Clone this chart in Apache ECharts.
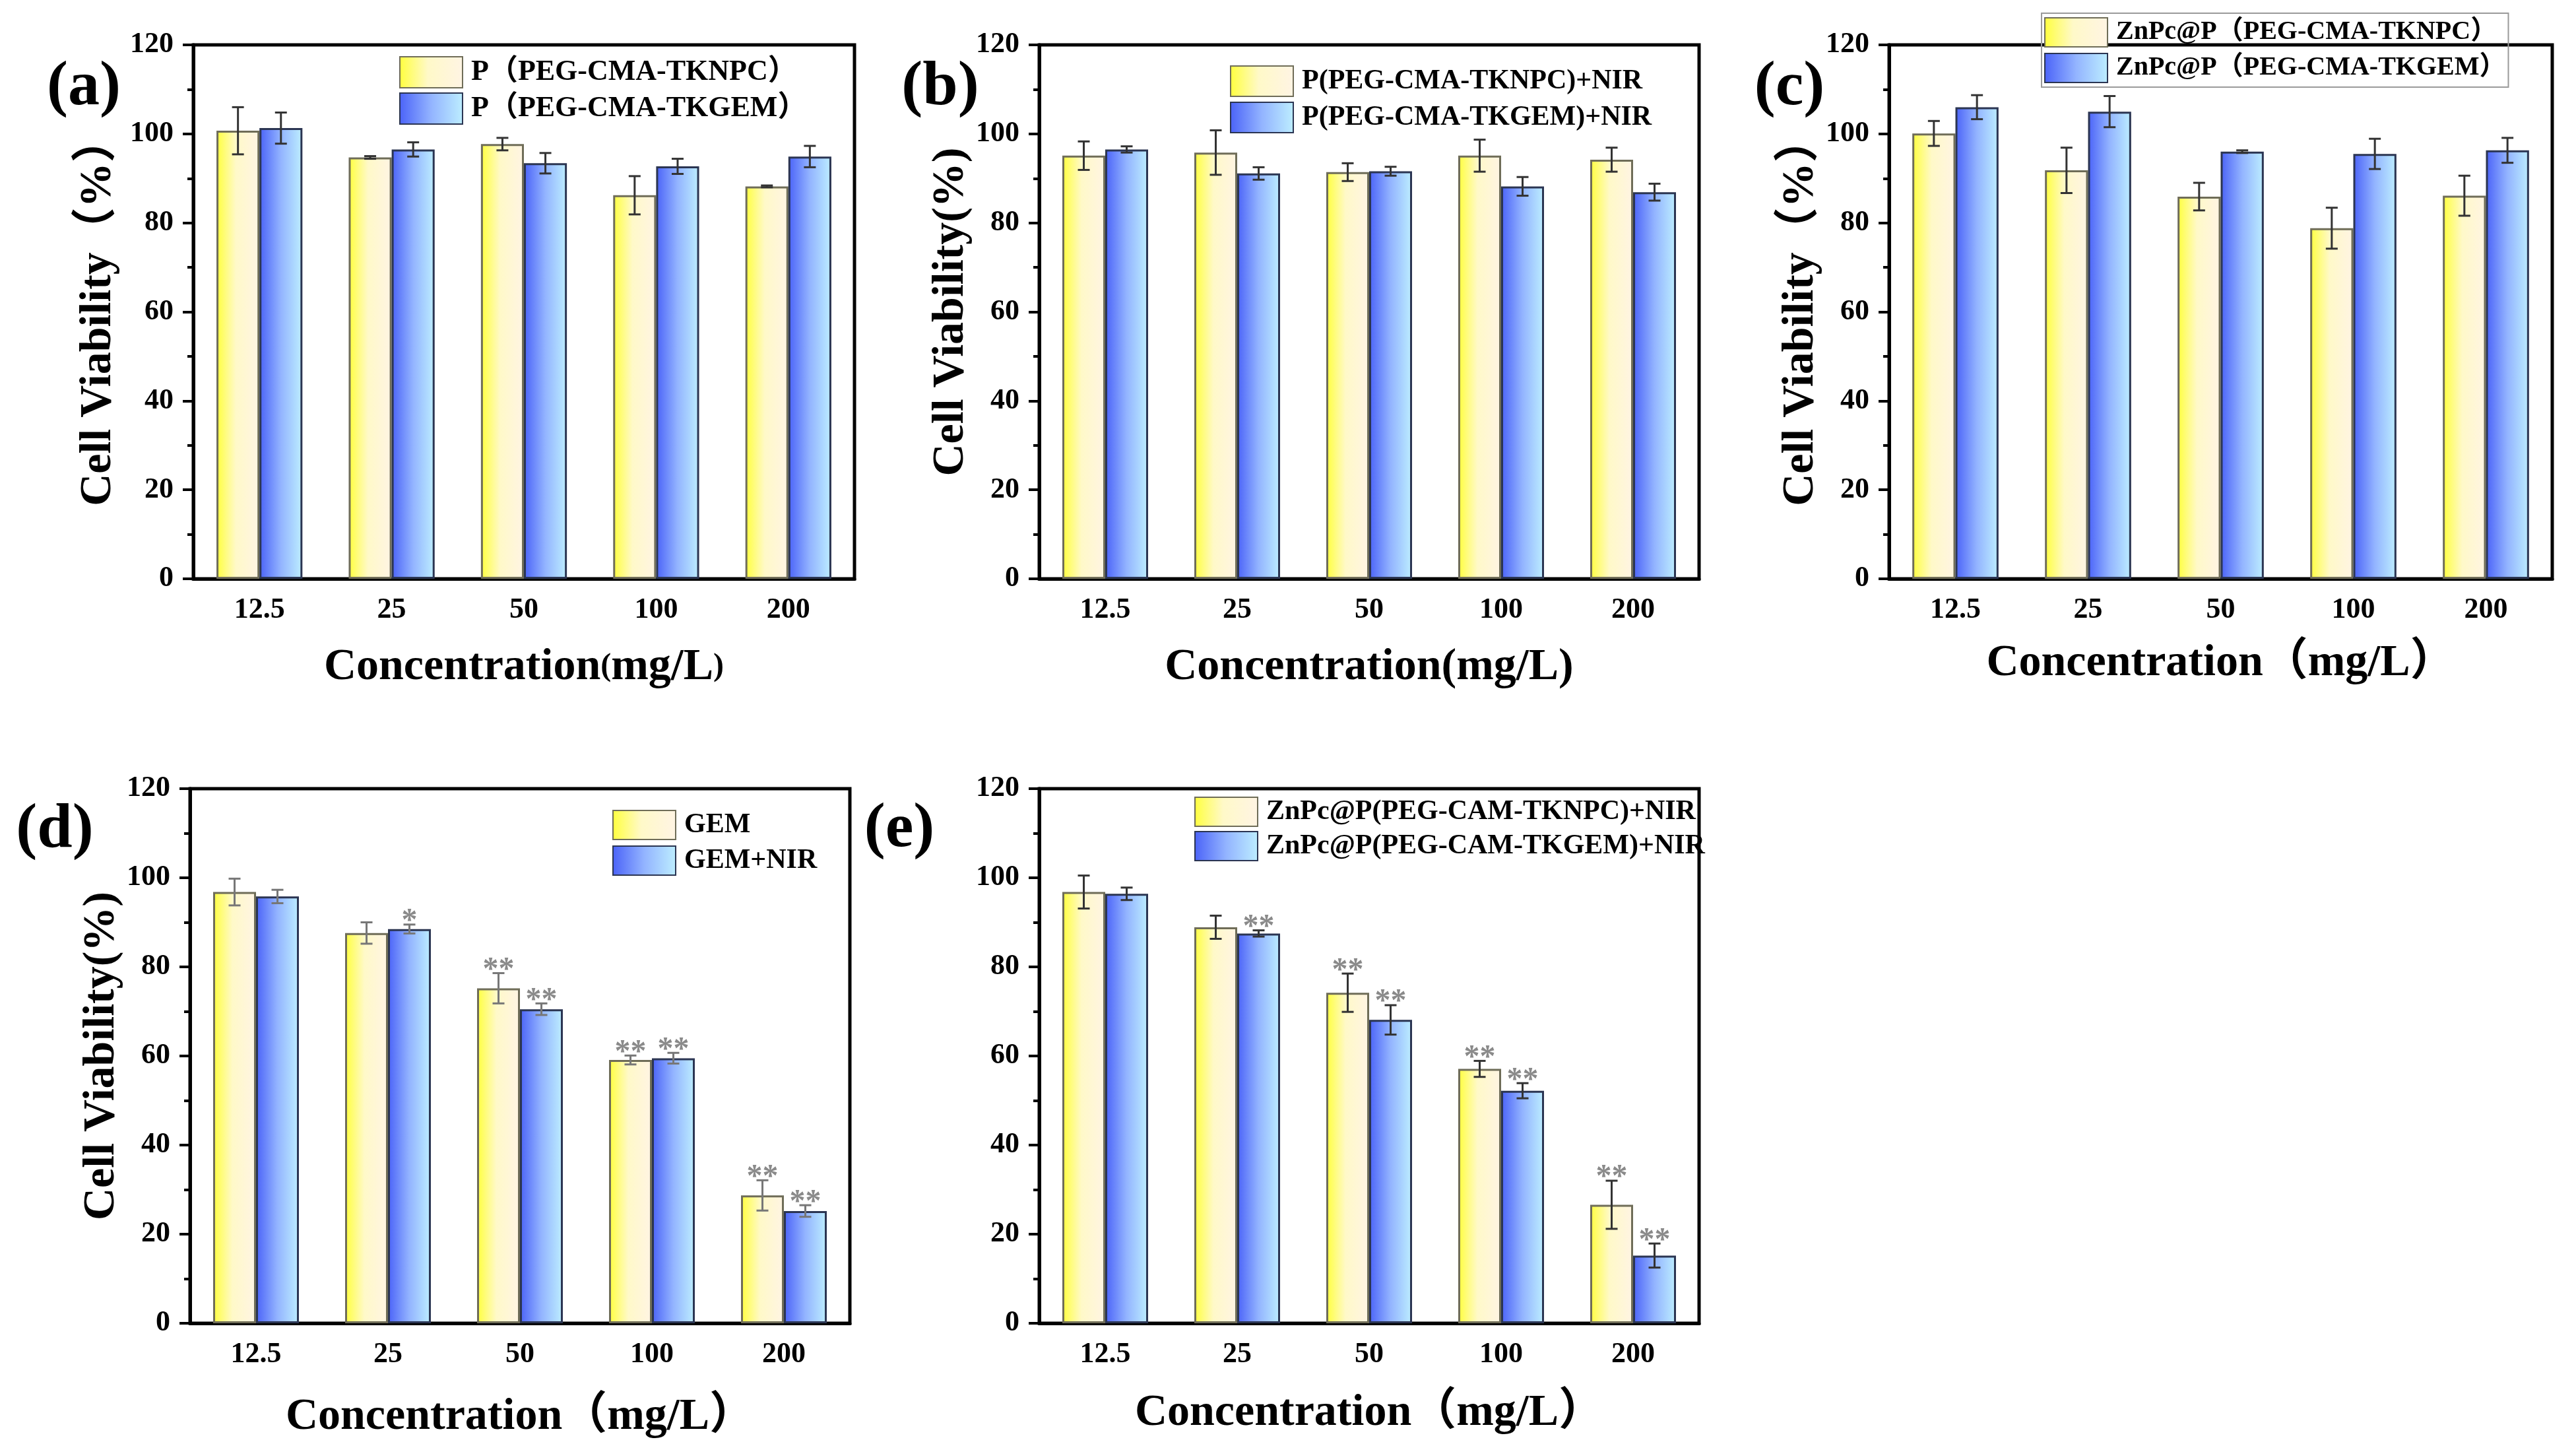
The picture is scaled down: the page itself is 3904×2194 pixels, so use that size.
<!DOCTYPE html>
<html lang="en">
<head>
<meta charset="UTF-8">
<title>Cell Viability</title>
<script src="https://cdn.jsdelivr.net/npm/echarts@6/dist/echarts.min.js"></script>
<style>
    html, body { margin: 0; padding: 0; background: #fff; }
    #chart { width: 3904px; height: 2194px; }
</style>
</head>
<body>
<div id="chart"></div>
<script>
    // 浓度分组
    var categories = ['12.5', '25', '50', '100', '200'];

    // (a)
    var aYellow = [100.7, 94.7, 97.7, 86.2, 88.2];
    var aYellowErr = [5.3, 0.3, 1.4, 4.3, 0.2];
    var aBlue = [101.3, 96.5, 93.4, 92.7, 94.9];
    var aBlueErr = [3.5, 1.6, 2.3, 1.7, 2.4];
    // (b)
    var bYellow = [95.1, 95.8, 91.4, 95.1, 94.2];
    var bYellowErr = [3.2, 5.0, 2.0, 3.6, 2.7];
    var bBlue = [96.5, 91.1, 91.6, 88.2, 86.9];
    var bBlueErr = [0.7, 1.4, 1.0, 2.1, 1.9];
    // (c)
    var cYellow = [100.1, 91.8, 85.9, 78.8, 86.1];
    var cYellowErr = [2.8, 5.1, 3.1, 4.6, 4.5];
    var cBlue = [106.0, 105.0, 96.0, 95.5, 96.3];
    var cBlueErr = [2.7, 3.5, 0.3, 3.4, 2.8];
    // (d)
    var dYellow = [96.8, 87.6, 75.2, 59.1, 28.7];
    var dYellowErr = [3.0, 2.4, 3.4, 1.0, 3.4];
    var dBlue = [95.8, 88.5, 70.5, 59.5, 25.2];
    var dBlueErr = [1.5, 1.0, 1.3, 1.2, 1.3];
    var dYellowSig = ['', '', '**', '**', '**'];
    var dBlueSig = ['', '*', '**', '**', '**'];
    // (e)
    var eYellow = [96.8, 88.9, 74.2, 57.1, 26.6];
    var eYellowErr = [3.7, 2.6, 4.3, 1.8, 5.4];
    var eBlue = [96.4, 87.5, 68.1, 52.2, 15.2];
    var eBlueErr = [1.4, 0.7, 3.3, 1.7, 2.7];
    var eYellowSig = ['', '', '**', '**', '**'];
    var eBlueSig = ['', '**', '**', '**', '**'];

    var yTicks = { min: 0, max: 120, interval: 20 };

    var FONT = "'Liberation Serif', 'Noto Sans CJK SC', serif";
    var CAT_GAP = 0.35;

    var yellowFill = new echarts.graphic.LinearGradient(0, 0, 1, 0, [
        { offset: 0, color: '#FFFF3C' },
        { offset: 0.45, color: '#FFF9C8' },
        { offset: 1, color: '#FFF4E4' }
    ]);
    var blueFill = new echarts.graphic.LinearGradient(0, 0, 1, 0, [
        { offset: 0, color: '#4A62F8' },
        { offset: 0.5, color: '#93B4FF' },
        { offset: 1, color: '#BDEEFF' }
    ]);

    var panels = [
        {
            tag: '(a)', labelPos: [127, 133],
            grid: { left: 293, top: 68, width: 1002, height: 809 },
            yName: 'Cell Viability（%）', yGap: 110,
            xName: 'Concentration{p|(}mg/L{p|)}', xGap: 100,
            names: ['P（PEG-CMA-TKNPC）', 'P（PEG-CMA-TKGEM）'],
            legend: { left: 605, top: 85, itemHeight: 47, itemGap: 6, font: 44 },
            yellow: aYellow, yellowErr: aYellowErr, blue: aBlue, blueErr: aBlueErr,
            errColor: '#333'
        },
        {
            tag: '(b)', labelPos: [1425, 133],
            grid: { left: 1575, top: 68, width: 1000, height: 809 },
            yName: 'Cell Viability(%)', yGap: 94,
            xName: 'Concentration(mg/L)', xGap: 100,
            names: ['P(PEG-CMA-TKNPC)+NIR', 'P(PEG-CMA-TKGEM)+NIR'],
            legend: { left: 1864, top: 99, itemHeight: 46, itemGap: 7, font: 42 },
            yellow: bYellow, yellowErr: bYellowErr, blue: bBlue, blueErr: bBlueErr,
            errColor: '#333'
        },
        {
            tag: '(c)', labelPos: [2712, 133],
            grid: { left: 2863, top: 68, width: 1005, height: 809 },
            yName: 'Cell Viability（%）', yGap: 88,
            xName: 'Concentration（mg/L）', xGap: 94,
            names: ['ZnPc@P（PEG-CMA-TKNPC）', 'ZnPc@P（PEG-CMA-TKGEM）'],
            legend: { left: 3094, top: 20, itemHeight: 44, itemGap: 8, font: 40, border: true },
            yellow: cYellow, yellowErr: cYellowErr, blue: cBlue, blueErr: cBlueErr,
            errColor: '#333'
        },
        {
            tag: '(d)', labelPos: [83, 1258],
            grid: { left: 288, top: 1195, width: 1000, height: 810 },
            yName: 'Cell Viability(%)', yGap: 93,
            xName: 'Concentration（mg/L）', xGap: 108,
            names: ['GEM', 'GEM+NIR'],
            legend: { left: 928, top: 1227, itemHeight: 44, itemGap: 8, font: 42 },
            yellow: dYellow, yellowErr: dYellowErr, blue: dBlue, blueErr: dBlueErr,
            yellowSig: dYellowSig, blueSig: dBlueSig,
            errColor: '#777', minorX: true
        },
        {
            tag: '(e)', labelPos: [1363, 1257],
            grid: { left: 1575, top: 1195, width: 1000, height: 810 },
            yName: '', yGap: 90,
            xName: 'Concentration（mg/L）', xGap: 102,
            names: ['ZnPc@P(PEG-CAM-TKNPC)+NIR', 'ZnPc@P(PEG-CAM-TKGEM)+NIR'],
            legend: { left: 1810, top: 1207, itemHeight: 44, itemGap: 6, font: 42 },
            yellow: eYellow, yellowErr: eYellowErr, blue: eBlue, blueErr: eBlueErr,
            yellowSig: eYellowSig, blueSig: eBlueSig,
            errColor: '#333', minorX: true
        }
    ];

    // 误差棒 + 显著性星号
    function errRender(side, color, sig) {
        return function (params, api) {
            var idx = api.value(0), v = api.value(1), e = api.value(2);
            var band = api.size([1, 0])[0];
            var bw = band * (1 - CAT_GAP) / 2;
            var cx = api.coord([idx, v])[0] + side * bw / 2;
            var top = api.coord([idx, v + e])[1];
            var bot = api.coord([idx, v - e])[1];
            var cap = 9;
            var st = { stroke: color, lineWidth: 3 };
            var children = [
                { type: 'line', shape: { x1: cx, y1: top, x2: cx, y2: bot }, style: st },
                { type: 'line', shape: { x1: cx - cap, y1: top, x2: cx + cap, y2: top }, style: st },
                { type: 'line', shape: { x1: cx - cap, y1: bot, x2: cx + cap, y2: bot }, style: st }
            ];
            var s = sig ? sig[params.dataIndex] : '';
            if (s) {
                children.push({
                    type: 'text',
                    style: {
                        text: s, x: cx, y: top - 4,
                        fill: '#8a8a8a', font: 'bold 48px ' + FONT,
                        align: 'center', verticalAlign: 'middle'
                    }
                });
            }
            return { type: 'group', children: children };
        };
    }

    function toErrData(vals, errs) {
        return vals.map(function (v, i) { return [i, v, errs[i]]; });
    }

    var grids = [], xAxes = [], yAxes = [], series = [], legends = [], graphics = [];

    panels.forEach(function (p, k) {
        grids.push({
            left: p.grid.left, top: p.grid.top, width: p.grid.width, height: p.grid.height,
            show: true, borderColor: '#000', borderWidth: 5, backgroundColor: 'transparent'
        });
        xAxes.push({
            type: 'category', gridIndex: k, data: categories,
            axisLine: { lineStyle: { color: '#000', width: 5 } },
            axisTick: { alignWithLabel: true, length: 16, lineStyle: { color: '#000', width: 4 } },
            axisLabel: { color: '#000', fontSize: 44, fontWeight: 'bold', fontFamily: FONT, margin: 26 },
            name: p.xName, nameLocation: 'middle', nameGap: p.xGap,
            nameTextStyle: {
                color: '#000', fontSize: 68, fontWeight: 'bold', fontFamily: FONT,
                rich: { p: { fontSize: 48, fontWeight: 'bold', fontFamily: FONT, color: '#000' } }
            }
        });
        yAxes.push({
            type: 'value', gridIndex: k,
            min: yTicks.min, max: yTicks.max, interval: yTicks.interval,
            splitLine: { show: false },
            axisLine: { show: true, lineStyle: { color: '#000', width: 5 } },
            axisTick: { show: true, length: 16, lineStyle: { color: '#000', width: 4 } },
            minorTick: { show: true, splitNumber: 2, length: 9, lineStyle: { color: '#000', width: 4 } },
            axisLabel: { color: '#000', fontSize: 44, fontWeight: 'bold', fontFamily: FONT, margin: 30 },
            name: p.yName, nameLocation: 'middle', nameGap: p.yGap,
            nameTextStyle: { color: '#000', fontSize: 68, fontWeight: 'bold', fontFamily: FONT }
        });

        series.push({
            name: p.names[0], type: 'bar', xAxisIndex: k, yAxisIndex: k,
            data: p.yellow, barGap: '0%', barCategoryGap: (CAT_GAP * 100) + '%',
            itemStyle: { color: yellowFill, borderColor: '#6f6d58', borderWidth: 3 }
        });
        series.push({
            name: p.names[1], type: 'bar', xAxisIndex: k, yAxisIndex: k,
            data: p.blue, barGap: '0%', barCategoryGap: (CAT_GAP * 100) + '%',
            itemStyle: { color: blueFill, borderColor: '#2b3552', borderWidth: 3 }
        });
        series.push({
            type: 'custom', xAxisIndex: k, yAxisIndex: k, z: 5,
            renderItem: errRender(-1, p.errColor, p.yellowSig),
            data: toErrData(p.yellow, p.yellowErr)
        });
        series.push({
            type: 'custom', xAxisIndex: k, yAxisIndex: k, z: 5,
            renderItem: errRender(1, p.errColor, p.blueSig),
            data: toErrData(p.blue, p.blueErr)
        });

        legends.push({
            data: p.names, orient: 'vertical', left: p.legend.left, top: p.legend.top,
            icon: 'rect', itemWidth: 95, itemHeight: p.legend.itemHeight, itemGap: p.legend.itemGap,
            selectedMode: false,
            padding: p.legend.border ? [6, 4, 6, 4] : 0,
            borderColor: p.legend.border ? '#9a9a9a' : 'transparent',
            borderWidth: p.legend.border ? 2 : 0,
            textStyle: { color: '#000', fontSize: p.legend.font, fontWeight: 'bold', fontFamily: FONT, padding: [0, 0, 0, 8] }
        });

        graphics.push({
            type: 'text', x: p.labelPos[0], y: p.labelPos[1],
            style: {
                text: p.tag, fill: '#000', font: 'bold 96px ' + FONT,
                align: 'center', verticalAlign: 'middle'
            }
        });
    });

    // (d)(e) 分组之间的小刻度
    panels.forEach(function (p, k) {
        if (!p.minorX) return;
        xAxes.push({
            type: 'category', gridIndex: k, data: categories, position: 'bottom',
            axisLine: { show: false },
            axisTick: { alignWithLabel: false, length: 9, lineStyle: { color: '#000', width: 4 } },
            axisLabel: { show: false }
        });
    });

    var myChart = echarts.init(document.getElementById('chart'));
    myChart.setOption({
        backgroundColor: '#fff',
        animation: false,
        grid: grids,
        xAxis: xAxes,
        yAxis: yAxes,
        legend: legends,
        graphic: graphics,
        series: series
    });
</script>
</body>
</html>
